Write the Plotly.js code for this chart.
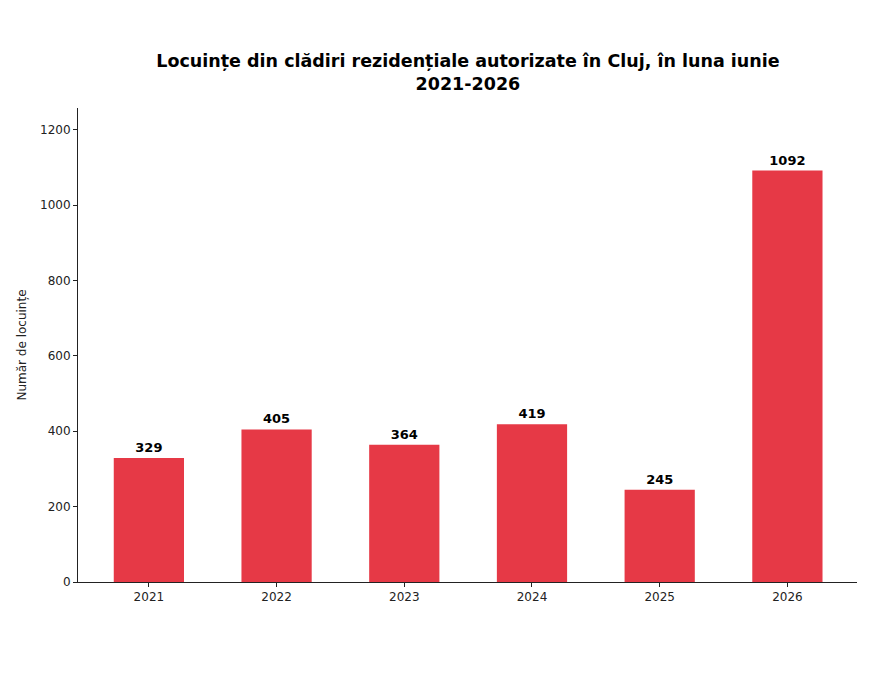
<!DOCTYPE html>
<html>
<head>
<meta charset="utf-8">
<script src="https://cdn.plot.ly/plotly-3.0.1.min.js"></script>
<style>
  body { margin: 0; background: #fff; }
  #chart { width: 873px; height: 679px; }
</style>
</head>
<body>
<div id="chart"></div>
<script>
// values
var years = ['2021', '2022', '2023', '2024', '2025', '2026'];
var dwellings = [329, 405, 364, 419, 245, 1092];
var yTicks = [0, 200, 400, 600, 800, 1000, 1200];

var bars = {
    x: years,
    y: dwellings,
    type: 'bar',
    width: 0.55,
    marker: { color: '#e63946' },
    text: dwellings.map(String),
    textposition: 'outside',
    cliponaxis: false,
    textfont: { family: 'DejaVu Sans', size: 13, color: '#000', weight: 'bold' },
    hoverinfo: 'x+y'
};

var layout = {
    width: 873,
    height: 679,
    margin: { l: 78, r: 16, t: 108, b: 97, pad: 0 },
    paper_bgcolor: '#fff',
    plot_bgcolor: '#fff',
    showlegend: false,
    font: { family: 'DejaVu Sans', size: 12, color: '#222' },
    title: {
        text: '<b>Locuințe din clădiri rezidențiale autorizate în Cluj, în luna iunie<br>2021-2026</b>',
        font: { family: 'DejaVu Sans', size: 17.5, color: '#000' },
        x: 0.536,
        xanchor: 'center',
        yref: 'container',
        y: 1 - 67 / 679,
        yanchor: 'top'
    },
    xaxis: {
        type: 'category',
        range: [-0.555, 5.545],
        showline: true,
        linecolor: '#222',
        linewidth: 1,
        ticks: 'outside',
        ticklen: 4,
        tickcolor: '#222',
        showgrid: false,
        zeroline: false,
        tickfont: { size: 12, color: '#222' }
    },
    yaxis: {
        range: [0, 1258],
        tickvals: yTicks,
        showline: true,
        linecolor: '#222',
        linewidth: 1,
        ticks: 'outside',
        ticklen: 4,
        tickcolor: '#222',
        showgrid: false,
        zeroline: false,
        tickfont: { size: 12, color: '#222' },
        title: { text: 'Număr de locuințe', font: { size: 12, color: '#222' }, standoff: 10 }
    },
    bargap: 0.45
};

Plotly.newPlot('chart', [bars], layout, { displayModeBar: false });
</script>
</body>
</html>
